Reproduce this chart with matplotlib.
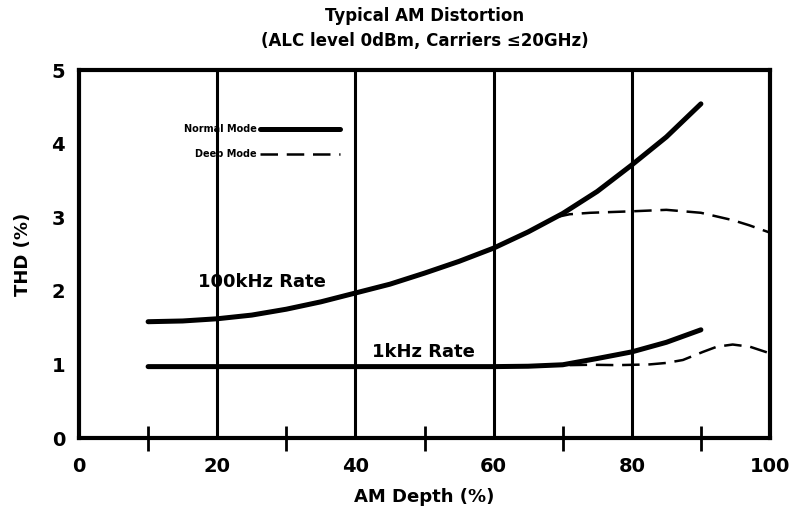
import matplotlib
matplotlib.use("Agg")
import matplotlib.pyplot as plt

# Data
x_100k_normal = [10, 15, 20, 25, 30, 35, 40, 45, 50, 55, 60, 65, 70, 75, 80, 85, 90]
y_100k_normal = [1.58, 1.59, 1.62, 1.67, 1.75, 1.85, 1.97, 2.09, 2.24, 2.40, 2.58, 2.80, 3.05, 3.35, 3.71, 4.09, 4.54]

x_100k_deep = [69, 71, 74, 77, 80, 85, 90, 94.6, 97, 100]
y_100k_deep = [3.00, 3.04, 3.06, 3.07, 3.08, 3.10, 3.06, 2.96, 2.89, 2.79]

x_1k_normal = [10, 20, 30, 40, 50, 60, 65, 70, 75, 80, 85, 90]
y_1k_normal = [0.97, 0.97, 0.97, 0.97, 0.97, 0.97, 0.975, 0.995, 1.08, 1.17, 1.30, 1.47]

x_1k_deep = [71, 74, 78, 82.6, 85, 87.4, 90.3, 92.3, 94.6, 97.1, 100]
y_1k_deep = [0.99, 0.995, 0.99, 1.00, 1.02, 1.06, 1.17, 1.24, 1.27, 1.24, 1.15]

x_ticks = [0, 20, 40, 60, 80, 100]
x_minor = [10, 30, 50, 70, 90]
y_ticks = [0, 1, 2, 3, 4, 5]
y_minor = [1, 2, 3, 4]
grid_x = [20, 40, 60, 80]

fig = plt.figure(figsize=(8.01, 5.21), dpi=100)
ax = fig.add_axes([79/801, 83/521, 691/801, 368/521])
ax.set_xlim(0, 100)
ax.set_ylim(0, 5)

for g in grid_x:
    ax.axvline(g, color='black', lw=2.2, zorder=1)

solid = dict(color='black', lw=3.6, solid_capstyle='round', solid_joinstyle='round', zorder=3)
dashed = dict(color='black', lw=1.8, dashes=(7, 3.5), zorder=2)
ax.plot(x_100k_normal, y_100k_normal, **solid)
ax.plot(x_1k_normal, y_1k_normal, **solid)
ax.plot(x_100k_deep, y_100k_deep, **dashed)
ax.plot(x_1k_deep, y_1k_deep, **dashed)

for s in ax.spines.values():
    s.set_linewidth(3)

ax.set_xticks(x_ticks)
ax.set_xticks(x_minor, minor=True)
ax.set_yticks(y_ticks)
ax.set_yticks(y_minor, minor=True)
ax.tick_params(axis='both', which='major', length=0, labelsize=14)
ax.tick_params(axis='x', which='major', pad=14)
ax.tick_params(axis='y', which='major', pad=10)
ax.tick_params(axis='both', which='minor', direction='inout', length=18, width=2)
for lab in ax.get_xticklabels() + ax.get_yticklabels():
    lab.set_fontweight('bold')

ax.set_xlabel('AM Depth (%)', fontsize=13, fontweight='bold', labelpad=8)
ax.set_ylabel('THD (%)', fontsize=13, fontweight='bold', labelpad=14)

fig.text(425/801, 1 - 16/521, 'Typical AM Distortion', ha='center', va='center',
         fontsize=12, fontweight='bold')
fig.text(425/801, 1 - 41/521, '(ALC level 0dBm, Carriers ≤20GHz)', ha='center', va='center',
         fontsize=12, fontweight='bold')

ax.text((262 - 79) / 691 * 100, (438 - 282) / 73.6, '100kHz Rate', ha='center', va='center',
        fontsize=13, fontweight='bold')
ax.text((423 - 79) / 691 * 100, (438 - 352) / 73.6, '1kHz Rate', ha='center', va='center',
        fontsize=13, fontweight='bold')

# Legend drawn manually
ax.plot([26.2, 37.8], [4.2, 4.2], color='black', lw=3.6, solid_capstyle='round')
ax.plot([26.2, 37.8], [3.86, 3.86], color='black', lw=1.8, dashes=(7, 3.5))
ax.text(25.7, 4.2, 'Normal Mode', ha='right', va='center', fontsize=7, fontweight='bold')
ax.text(25.7, 3.86, 'Deep Mode', ha='right', va='center', fontsize=7, fontweight='bold')

fig.savefig('out.png', dpi=100)
